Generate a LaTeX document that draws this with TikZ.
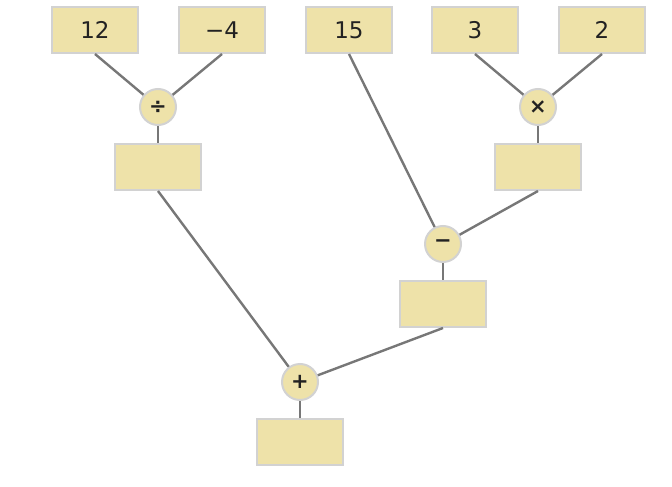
\documentclass[tikz,border=0pt]{standalone}
\usepackage{fontspec}
\setmainfont{DejaVu Sans}
\usepackage{tikz}

\definecolor{boxfill}{HTML}{EEE2A9}
\definecolor{boxline}{HTML}{D2D2D2}
\definecolor{wire}{HTML}{777777}
\definecolor{ink}{HTML}{222222}

\begin{document}
\begin{tikzpicture}[x=1pt, y=-1pt,
	numbox/.style={rectangle, fill=boxfill, draw=boxline, line width=2pt, minimum width=86pt, minimum height=46pt, inner sep=0pt, text=ink, font=\fontsize{23}{26}\selectfont},
	opcirc/.style={circle, fill=boxfill, draw=boxline, line width=2pt, minimum size=36pt, inner sep=0pt, text=ink, font=\bfseries\fontsize{21}{24}\selectfont},
	every path/.style={draw=wire, line width=2.4pt}]
			\path[use as bounding box, draw=none] (0,0) rectangle (672,487);
			
			\node[numbox] (n1) at (95,30){12};
			\node[numbox] (n2) at (222,30){−4};
			\node[numbox] (n3) at (349,30){15};
			\node[numbox] (n4) at (475,30){3};
			\node[numbox] (n5) at (602,30){2};
			
			\node[opcirc] (div) at (158,107){÷};
			\node[numbox] (rdiv) at (158,167){};
			\node[opcirc] (mul) at (538,107){×};
			\node[numbox] (rmul) at (538,167){};
			\node[opcirc] (sub) at (443,244){−};
			\node[numbox] (rsub) at (443,304){};
			\node[opcirc] (add) at (300,382){+};
			\node[numbox] (radd) at (300,442){};
			
			\draw (n1.south) -- (div);
			\draw (n2.south) -- (div);
			\draw (div) -- (rdiv);
			\draw (n4.south) -- (mul);
			\draw (n5.south) -- (mul);
			\draw (mul) -- (rmul);
			\draw (n3.south) -- (sub);
			\draw (rmul.south) -- (sub);
			\draw (sub) -- (rsub);
			\draw (rdiv.south) -- (add);
			\draw (rsub.south) -- (add);
			\draw (add) -- (radd);
			\end{tikzpicture}
\end{document}
